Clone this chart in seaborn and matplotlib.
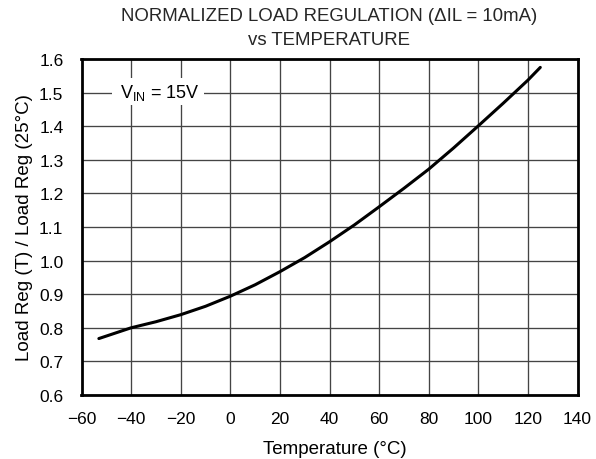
import matplotlib
matplotlib.use("Agg")
import matplotlib.pyplot as plt
import seaborn as sns
import pandas as pd

temperature = [-53, -40, -30, -20, -10, 0, 10, 20, 30, 40, 50, 60, 70, 80, 90, 100, 110, 120, 125]
load_reg_ratio = [0.768, 0.800, 0.818, 0.839, 0.864, 0.894, 0.928, 0.967, 1.009, 1.056, 1.106, 1.160, 1.215, 1.272, 1.335, 1.401, 1.468, 1.537, 1.575]
x_ticks = [-60, -40, -20, 0, 20, 40, 60, 80, 100, 120, 140]
y_ticks = [0.6, 0.7, 0.8, 0.9, 1.0, 1.1, 1.2, 1.3, 1.4, 1.5, 1.6]

sns.set_theme(style="white")
plt.rcParams['font.family'] = ['Liberation Sans', 'DejaVu Sans']
plt.rcParams['mathtext.fontset'] = 'custom'
plt.rcParams['mathtext.rm'] = 'Liberation Sans'

df = pd.DataFrame({"T": temperature, "R": load_reg_ratio})

fig = plt.figure(figsize=(5.96, 4.60), dpi=100)
ax = fig.add_axes([81.5/596, 1-396/460, 496/596, 336/460])

sns.lineplot(data=df, x="T", y="R", ax=ax, color="black", linewidth=2.2, zorder=3)

ax.set_xlim(-60, 140)
ax.set_ylim(0.6, 1.6)
ax.set_xticks(x_ticks)
ax.set_yticks(y_ticks)
ax.set_xticklabels([f"{v}".replace("-", "\u2212") for v in x_ticks])
ax.set_yticklabels([f"{v:.1f}" for v in y_ticks])
ax.tick_params(axis="both", length=0, labelsize=12.5, colors="black")
ax.tick_params(axis="x", pad=11.5)
ax.tick_params(axis="y", pad=13)
ax.grid(True, color="#444444", linewidth=0.95, zorder=1)
for s in ax.spines.values():
    s.set_color("black")
    s.set_linewidth(2.0)
    s.set_zorder(4)

ax.set_xlabel("Temperature (\u00b0C)", fontsize=13.5, color="black")
ax.xaxis.label.set_va("baseline")
ax.xaxis.set_label_coords((334.5-81.5)/496, -(454-396)/336)
ax.set_ylabel("Load Reg (T) / Load Reg (25\u00b0C)", fontsize=13.5, color="black")
ax.yaxis.set_label_coords((33-81.5)/496, 0.5)

ax.text(-29.2, 1.502, r" V$_{\mathregular{IN}}$ = 15V ", fontsize=13, ha="center", va="center",
        color="black", zorder=5,
        bbox=dict(facecolor="white", edgecolor="none", pad=2.5))

fig.text(329.5/596, 1-20.7/460, "NORMALIZED LOAD REGULATION (\u0394IL = 10mA)", ha="center", va="baseline", fontsize=13.4)
fig.text(329.5/596, 1-45/460, "vs TEMPERATURE", ha="center", va="baseline", fontsize=13.4)

fig.savefig("out.png", dpi=100, facecolor="white")
